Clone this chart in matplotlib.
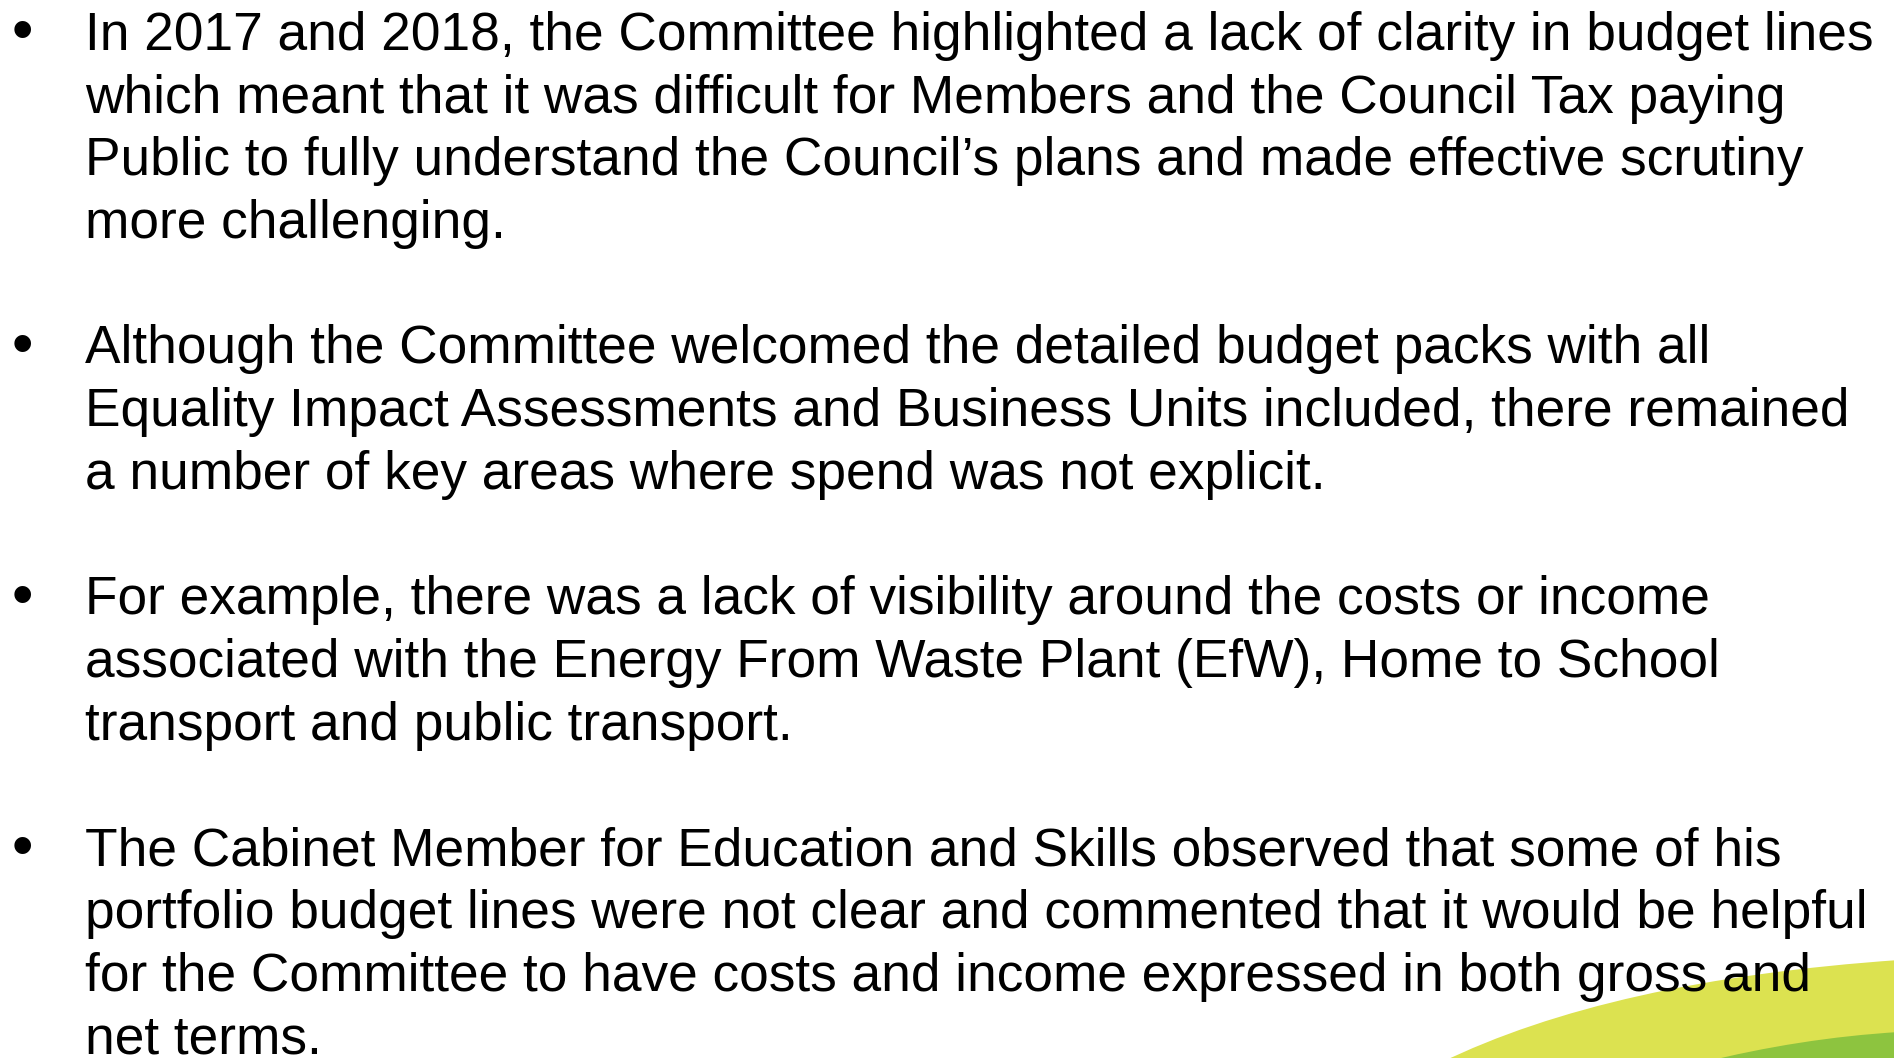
import matplotlib
matplotlib.use("Agg")
import matplotlib.pyplot as plt
from matplotlib.patches import PathPatch
from matplotlib.path import Path

# slide text, one list per bullet, already wrapped as in the slide
bullet_1 = [
    "In 2017 and 2018, the Committee highlighted a lack of clarity in budget lines",
    "which meant that it was difficult for Members and the Council Tax paying",
    "Public to fully understand the Council\u2019s plans and made effective scrutiny",
    "more challenging.",
]
bullet_2 = [
    "Although the Committee welcomed the detailed budget packs with all",
    "Equality Impact Assessments and Business Units included, there remained",
    "a number of key areas where spend was not explicit.",
]
bullet_3 = [
    "For example, there was a lack of visibility around the costs or income",
    "associated with the Energy From Waste Plant (EfW), Home to School",
    "transport and public transport.",
]
bullet_4 = [
    "The Cabinet Member for Education and Skills observed that some of his",
    "portfolio budget lines were not clear and commented that it would be helpful",
    "for the Committee to have costs and income expressed in both gross and",
    "net terms.",
]
bullets = [bullet_1, bullet_2, bullet_3, bullet_4]

W, H = 1894, 1058
fig = plt.figure(figsize=(W / 100, H / 100), dpi=100)
ax = fig.add_axes([0, 0, 1, 1])
ax.set_xlim(0, W)
ax.set_ylim(H, 0)
ax.axis("off")

# green swoosh in the bottom right corner
def swoosh(p0, c, p1, color):
    verts = [p0, c, p1, (W + 5, H + 5), p0]
    codes = [Path.MOVETO, Path.CURVE3, Path.CURVE3, Path.LINETO, Path.CLOSEPOLY]
    ax.add_patch(PathPatch(Path(verts, codes), facecolor=color, edgecolor="none", zorder=0))

swoosh((1440, H + 5), (1610, 980), (W + 5, 960), "#dce250")
swoosh((1700, H + 5), (1800, 1038), (W + 5, 1032), "#8dc43f")

font = "Liberation Sans"
size = 38.3
first_baseline = 50
line_gap = 62.7
text_x = 85

row = 0
for lines in bullets:
    ax.text(22, first_baseline + row * line_gap - 15, "\u2022", fontsize=44,
            family=font, ha="center", va="center", zorder=2)
    for line in lines:
        ax.text(text_x, first_baseline + row * line_gap, line, fontsize=size,
                family=font, va="baseline", ha="left", zorder=2)
        row += 1
    row += 1

fig.savefig("out.png", dpi=100)
